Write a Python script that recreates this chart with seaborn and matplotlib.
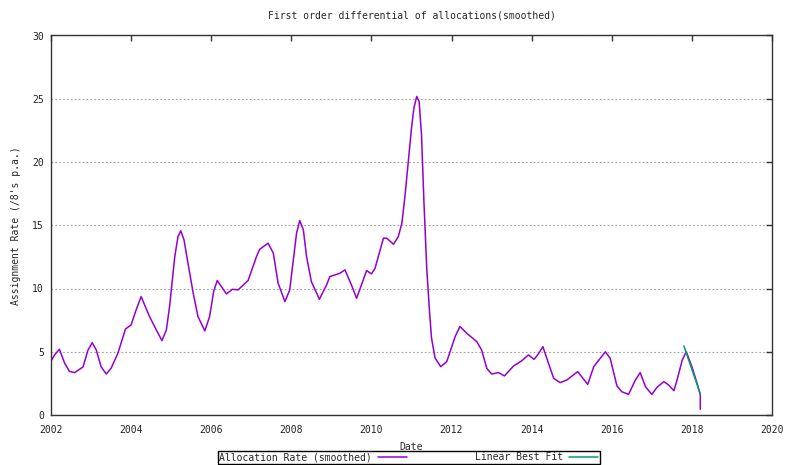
import matplotlib
matplotlib.use("Agg")
import matplotlib.pyplot as plt
import seaborn as sns

# Smoothed first-order differential of allocations (/8's per annum)
years = [
    2002.00, 2002.09, 2002.21, 2002.34, 2002.46, 2002.59, 2002.80, 2002.92,
    2003.03, 2003.13, 2003.25, 2003.38, 2003.50, 2003.67, 2003.86, 2004.00,
    2004.11, 2004.25, 2004.46, 2004.63, 2004.77, 2004.88, 2004.96, 2005.03,
    2005.09, 2005.17, 2005.24, 2005.32, 2005.42, 2005.55, 2005.67, 2005.84,
    2005.96, 2006.06, 2006.15, 2006.38, 2006.53, 2006.67, 2006.92, 2007.13,
    2007.21, 2007.42, 2007.55, 2007.67, 2007.84, 2007.96, 2008.05, 2008.13,
    2008.21, 2008.30, 2008.38, 2008.50, 2008.70, 2008.88, 2008.96, 2009.21,
    2009.34, 2009.50, 2009.63, 2009.88, 2010.00, 2010.09, 2010.30, 2010.38,
    2010.55, 2010.67, 2010.76, 2010.84, 2010.92, 2011.00, 2011.06, 2011.13,
    2011.19, 2011.25, 2011.31, 2011.38, 2011.45, 2011.50, 2011.59, 2011.73,
    2011.88, 2012.09, 2012.21, 2012.38, 2012.63, 2012.75, 2012.88, 2013.00,
    2013.17, 2013.32, 2013.55, 2013.75, 2013.92, 2014.06, 2014.15, 2014.28,
    2014.42, 2014.55, 2014.71, 2014.88, 2015.15, 2015.28, 2015.40, 2015.55,
    2015.84, 2015.96, 2016.13, 2016.25, 2016.42, 2016.59, 2016.71, 2016.84,
    2017.00, 2017.13, 2017.30, 2017.42, 2017.55, 2017.63, 2017.76, 2017.86,
    2018.00, 2018.13, 2018.21, 2018.21,
]
rate = [
    4.27, 4.75, 5.20, 4.10, 3.45, 3.35, 3.80, 5.10,
    5.72, 5.14, 3.82, 3.24, 3.69, 4.88, 6.80, 7.12,
    8.17, 9.36, 7.78, 6.72, 5.88, 6.72, 8.57, 10.68,
    12.52, 14.10, 14.56, 13.85, 12.00, 9.63, 7.78, 6.65,
    7.78, 9.76, 10.63, 9.57, 9.94, 9.89, 10.63, 12.52,
    13.10, 13.58, 12.79, 10.42, 8.96, 9.89, 12.26, 14.37,
    15.37, 14.64, 12.52, 10.55, 9.15, 10.28, 10.94, 11.20,
    11.47, 10.28, 9.23, 11.42, 11.15, 11.60, 13.98, 13.98,
    13.50, 14.10, 15.17, 17.40, 20.04, 22.68, 24.26, 25.18,
    24.79, 22.15, 16.88, 11.60, 8.17, 6.07, 4.49, 3.82,
    4.22, 6.20, 7.00, 6.46, 5.80, 5.14, 3.69, 3.24,
    3.35, 3.09, 3.88, 4.28, 4.75, 4.40, 4.75, 5.40,
    4.09, 2.90, 2.56, 2.77, 3.43, 2.90, 2.42, 3.82,
    5.00, 4.48, 2.29, 1.84, 1.63, 2.77, 3.35, 2.24,
    1.63, 2.19, 2.64, 2.37, 1.92, 2.77, 4.35, 5.00,
    3.82, 2.50, 1.58, 0.45,
]

# Linear best fit over the most recent period
fit_years = [2017.80, 2018.21]
fit_rate = [5.46, 1.66]

x_ticks = list(range(2002, 2021, 2))
y_ticks = [0, 5, 10, 15, 20, 25, 30]

sns.set_style("white")
plt.rcParams["font.family"] = ["DejaVu Sans Mono"]
plt.rcParams["font.size"] = 7

W, H = 785, 465
fig = plt.figure(figsize=(W / 100, H / 100), dpi=100)
ax = fig.add_axes([51 / W, 1 - 415 / H, (772 - 51) / W, (415 - 35.5) / H])

sns.lineplot(x=years, y=rate, ax=ax, color="#9400d3", lw=1.1,
             sort=False, estimator=None, label="Allocation Rate (smoothed)")
sns.lineplot(x=fit_years, y=fit_rate, ax=ax, color="#009e73", lw=1.1,
             sort=False, estimator=None, label="Linear Best Fit")

ax.set_xlim(2002, 2020)
ax.set_ylim(0, 30)
ax.set_xticks(x_ticks)
ax.set_xticklabels([str(t) for t in x_ticks])
ax.set_yticks(y_ticks)
ax.set_yticklabels([str(t) for t in y_ticks])

ax.tick_params(axis="both", direction="in", length=4, width=1,
               top=True, right=True, labelsize=7,
               color="#333333", labelcolor="#222222")
ax.tick_params(axis="x", pad=7)
ax.tick_params(axis="y", pad=5)

for s in ax.spines.values():
    s.set_color("#333333")
    s.set_linewidth(1.0)

ax.yaxis.grid(True, color="#a0a0a0", linestyle=(0, (1.5, 2.0)), lw=0.8)
ax.xaxis.grid(False)
ax.set_axisbelow(True)

ax.set_title("First order differential of allocations(smoothed)", fontsize=7, pad=12)
ax.set_xlabel("Date", fontsize=7, labelpad=5)
ax.set_ylabel("Assignment Rate (/8's p.a.)", fontsize=7, labelpad=8)

handles, labels = ax.get_legend_handles_labels()
ax.get_legend().remove()
leg = fig.legend(handles, labels, loc="upper left",
                 bbox_to_anchor=(218 / W, 1 - 451 / H), ncol=2,
                 markerfirst=False, frameon=True, fancybox=False,
                 edgecolor="black", framealpha=1, fontsize=7,
                 handlelength=3, handletextpad=0.6, columnspacing=7,
                 borderpad=0.15, borderaxespad=0)
leg.get_frame().set_linewidth(1.0)

fig.savefig("out.png", dpi=100)
